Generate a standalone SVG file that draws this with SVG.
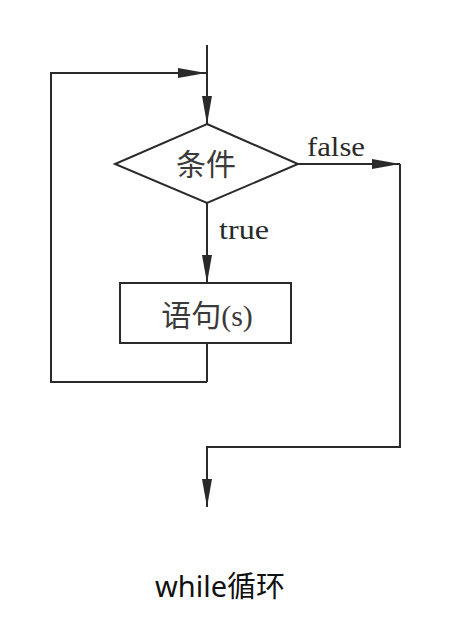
<svg xmlns="http://www.w3.org/2000/svg" width="451" height="625" viewBox="0 0 451 625">
<defs>
<style>
.ln{fill:none;stroke:#2a2a2a;stroke-width:2;stroke-linejoin:miter}
.shape{fill:#fff;stroke:#2a2a2a;stroke-width:2}
.lbl{font-family:"Liberation Serif","Noto Sans CJK SC",serif;fill:#2a2a2a}
.cjk{font-family:"Liberation Serif","Noto Sans CJK SC",serif;fill:#3a3a3a;font-size:30px}
.cap{font-family:"Noto Sans","Noto Sans CJK SC",sans-serif;fill:#111;font-size:29px}
</style>
<marker id="ah" viewBox="0 0 28 10" refX="28" refY="5" markerWidth="28" markerHeight="10" markerUnits="userSpaceOnUse" orient="auto">
<path d="M0,0 L28,5 L0,10 Z" fill="#2a2a2a"/>
</marker>
</defs>
<rect width="451" height="625" fill="#fff"/>
<g id="connectors">
<path class="ln" d="M207,45 V124" marker-end="url(#ah)"/>
<path class="ln" d="M207,382 H51 V73 H206" marker-end="url(#ah)"/>
<path class="ln" d="M207,203 V283" marker-end="url(#ah)"/>
<path class="ln" d="M298,164 H400"  marker-end="url(#ah)"/>
<path class="ln" d="M400,164 V447 H207 V507" marker-end="url(#ah)"/>
<path class="ln" d="M207,343 V382"/>
<text class="lbl" x="307" y="156" font-size="27" textLength="58" lengthAdjust="spacingAndGlyphs">false</text>
<text class="lbl" x="219" y="239" font-size="27" textLength="50" lengthAdjust="spacingAndGlyphs">true</text>
</g>
<g id="condition">
<polygon class="shape" points="207,124 298,164 207,203 115,164"/>
<text class="cjk" x="206" y="175" text-anchor="middle">条件</text>
</g>
<g id="statements">
<rect class="shape" x="120" y="283" width="171" height="60"/>
<text class="cjk" x="207" y="326" text-anchor="middle">语句(s)</text>
</g>
<g id="caption">
<text class="cap" x="220" y="597" text-anchor="middle">while循环</text>
</g>
</svg>
